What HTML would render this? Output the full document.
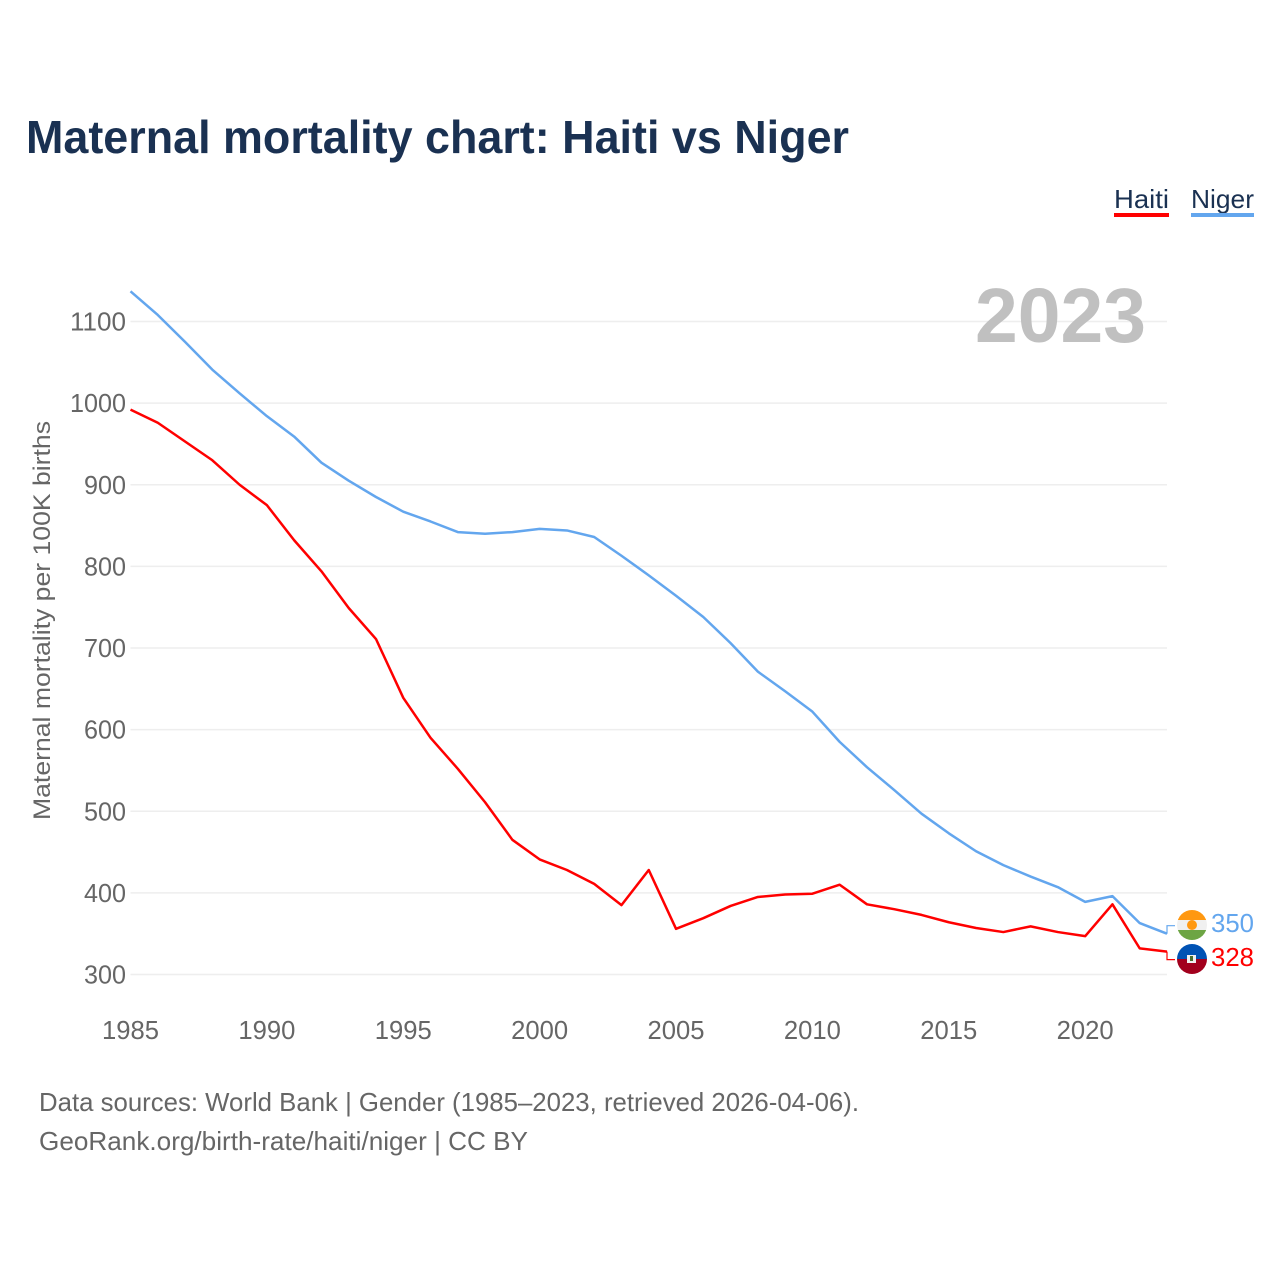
<!DOCTYPE html>
<html lang="en">
<head>
<meta charset="utf-8">
<title>Maternal mortality chart: Haiti vs Niger</title>
<style>
html,body{margin:0;padding:0;background:#fff;width:1280px;height:1280px;overflow:hidden}
svg{display:block}
text{font-family:"Liberation Sans",sans-serif}
</style>
</head>
<body>
<svg id="chart" xmlns="http://www.w3.org/2000/svg" width="1280" height="1280" viewBox="0 0 1280 1280">
  <defs>
    <clipPath id="niger-clip"><circle id="niger-clip-circle" r="15" cx="1192" cy="925"></circle></clipPath>
    <clipPath id="haiti-clip"><circle id="haiti-clip-circle" r="15" cx="1192" cy="959"></circle></clipPath>
  </defs>
  <rect width="1280" height="1280" fill="#fff"></rect>
  <text x="26" y="153" font-size="46" font-weight="700" fill="#1a3152" textLength="823" lengthAdjust="spacingAndGlyphs">Maternal mortality chart: Haiti vs Niger</text>

  <text x="1114" y="208" font-size="26" fill="#1a3152" textLength="55" lengthAdjust="spacingAndGlyphs">Haiti</text>
  <rect x="1114" y="213" width="55" height="4" fill="#ff0000"></rect>
  <text x="1191" y="208" font-size="26" fill="#1a3152" textLength="63" lengthAdjust="spacingAndGlyphs">Niger</text>
  <rect x="1191" y="213" width="63" height="4" fill="#63a6ee"></rect>

  <g id="grid"></g>
  <g id="y-ticks"></g>
  <g id="x-ticks"></g>

  <text transform="translate(50,620.5) rotate(-90)" text-anchor="middle" font-size="24.5" fill="#666666" textLength="399" lengthAdjust="spacingAndGlyphs">Maternal mortality per 100K births</text>

  <text x="975" y="342" font-size="77" font-weight="700" fill="#c0c0c0" textLength="171" lengthAdjust="spacingAndGlyphs">2023</text>

  <path id="line-niger" fill="none" stroke="#63a6ee" stroke-width="2.5" stroke-linejoin="round"></path>
  <path id="line-haiti" fill="none" stroke="#ff0000" stroke-width="2.5" stroke-linejoin="round"></path>
  <path id="leader-niger" fill="none" stroke="#63a6ee" stroke-width="1.2"></path>
  <path id="leader-haiti" fill="none" stroke="#ff0000" stroke-width="1.2"></path>

  <g id="flag-niger" clip-path="url(#niger-clip)">
    <rect x="1177" y="910" width="30" height="10" fill="#ff9811"></rect>
    <rect x="1177" y="920" width="30" height="10" fill="#f0f0f0"></rect>
    <rect x="1177" y="930" width="30" height="10" fill="#6da544"></rect>
    <circle cx="1192" cy="925" r="5" fill="#ff9811"></circle>
  </g>
  <g id="flag-haiti" clip-path="url(#haiti-clip)">
    <rect x="1177" y="944" width="30" height="15" fill="#0052b4"></rect>
    <rect x="1177" y="959" width="30" height="15" fill="#a2001d"></rect>
    <rect x="1187" y="955" width="9" height="8" fill="#f0f0f0"></rect>
    <rect x="1190" y="956" width="3" height="5" fill="#496e2d"></rect>
  </g>

  <text id="value-niger" x="1211" y="932" font-size="26" fill="#63a6ee" textLength="43" lengthAdjust="spacingAndGlyphs"></text>
  <text id="value-haiti" x="1211" y="966" font-size="26" fill="#ff0000" textLength="43" lengthAdjust="spacingAndGlyphs"></text>

  <text x="39" y="1111" font-size="26" fill="#666666" textLength="820" lengthAdjust="spacingAndGlyphs">Data sources: World Bank | Gender (1985–2023, retrieved 2026-04-06).</text>
  <text x="39" y="1150" font-size="26" fill="#666666" textLength="489" lengthAdjust="spacingAndGlyphs">GeoRank.org/birth-rate/haiti/niger | CC BY</text>
</svg>
<script>
const years = [1985,1986,1987,1988,1989,1990,1991,1992,1993,1994,1995,1996,1997,1998,1999,2000,2001,2002,2003,2004,2005,2006,2007,2008,2009,2010,2011,2012,2013,2014,2015,2016,2017,2018,2019,2020,2021,2022,2023];
const nigerValues = [1137,1108,1075,1041,1012,984,959,927,905,885,867,855,842,840,842,846,844,836,813,789,764,738,706,671,647,622,585,554,526,497,473,451,434,420,407,389,396,363,350];
const haitiValues = [992,976,953,930,900,875,832,794,749,711,639,590,552,511,465,441,428,411,385,428,356,369,384,395,398,399,410,386,380,373,364,357,352,359,352,347,386,332,328];
const yTickValues = [300,400,500,600,700,800,900,1000,1100];
const xTickYears = [1985,1990,1995,2000,2005,2010,2015,2020];

const NS = 'http://www.w3.org/2000/svg';
function xScale(year) { return 130.5 + (year - 1985) * (1167 - 130.5) / 38; }
function yScale(value) { return 974.5 - (value - 300) * 0.81625; }
function linePath(values) {
  return values.map(function (v, i) {
    return (i ? 'L' : 'M') + xScale(years[i]).toFixed(2) + ' ' + yScale(v).toFixed(2);
  }).join(' ');
}

const gridGroup = document.getElementById('grid');
const yGroup = document.getElementById('y-ticks');
const xGroup = document.getElementById('x-ticks');

yTickValues.forEach(function (v) {
  const gl = document.createElementNS(NS, 'line');
  
  
  gl.setAttribute('x1', 130.5);
  gl.setAttribute('x2', 1167);
  gl.setAttribute('y1', yScale(v));
  gl.setAttribute('y2', yScale(v));
  gl.setAttribute('stroke', '#eeeeee');
  gl.setAttribute('stroke-width', '1.5');
  gridGroup.appendChild(gl);

  const t = document.createElementNS(NS, 'text');
  
  
  const label = String(v);
  t.setAttribute('x', 126 - label.length * 14);
  t.setAttribute('y', yScale(v) + 9);
  t.setAttribute('font-size', '26');
  t.setAttribute('fill', '#666666');
  t.setAttribute('textLength', label.length * 14);
  t.setAttribute('lengthAdjust', 'spacingAndGlyphs');
  t.textContent = label;
  yGroup.appendChild(t);
});

xTickYears.forEach(function (yr) {
  const t = document.createElementNS(NS, 'text');
  
  
  t.setAttribute('x', xScale(yr) - 28.5);
  t.setAttribute('y', 1039);
  t.setAttribute('font-size', '26');
  t.setAttribute('fill', '#666666');
  t.setAttribute('textLength', '57');
  t.setAttribute('lengthAdjust', 'spacingAndGlyphs');
  t.textContent = String(yr);
  xGroup.appendChild(t);
});

document.getElementById('line-niger').setAttribute('d', linePath(nigerValues));
document.getElementById('line-haiti').setAttribute('d', linePath(haitiValues));

const lastNiger = nigerValues[nigerValues.length - 1];
const lastHaiti = haitiValues[haitiValues.length - 1];
const endX = xScale(years[years.length - 1]);
document.getElementById('leader-niger').setAttribute('d', 'M' + endX + ' ' + yScale(lastNiger) + ' V' + (yScale(lastNiger) - 8) + ' H' + (endX + 8));
document.getElementById('leader-haiti').setAttribute('d', 'M' + endX + ' ' + yScale(lastHaiti) + ' V' + (yScale(lastHaiti) + 8) + ' H' + (endX + 8));
document.getElementById('value-niger').textContent = String(lastNiger);
document.getElementById('value-haiti').textContent = String(lastHaiti);
</script>
</body>
</html>
